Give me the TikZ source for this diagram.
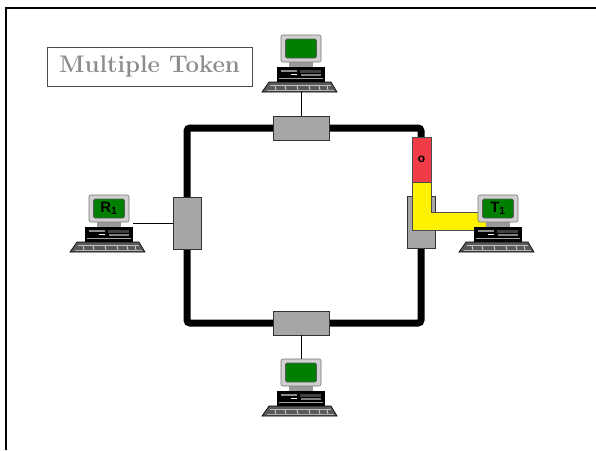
\documentclass[tikz,border=0pt]{standalone}
\usepackage{fontspec}
\usepackage{tikz}
\usetikzlibrary{backgrounds}
\newfontfamily\labelfont{Liberation Sans}

\definecolor{tapgray}{RGB}{166,166,166}
\definecolor{screengreen}{RGB}{0,128,0}
\definecolor{tokenred}{RGB}{240,60,70}
\definecolor{titlegray}{RGB}{140,140,140}

\tikzset{
  tap/.style={draw=black!80, fill=tapgray, line width=0.8pt, inner sep=0pt},
  ring/.style={line width=7pt, rounded corners=3pt},
  screen/.style={draw=black!65, line width=0.9pt, fill=screengreen, rounded corners=1.5pt, minimum width=31pt, minimum height=19pt, inner sep=0pt, font=\labelfont\bfseries\fontsize{15}{15}\selectfont},
  pics/computer/.style={
    code={
      % keyboard
      \draw[black, fill=black!65, line width=0.6pt] (-32,47) -- (30,47) -- (36,57) -- (-39,57) -- cycle;
      \draw[black!25, line width=0.7pt] (-31,50) -- (30,50);
      \foreach \kx in {-26,-16,-4,8,18,26} \draw[black!15, line width=0.8pt] (\kx,51) -- ++(1,4);
      \draw[black!30, line width=0.8pt] (-34,55) -- (33,55);
      % base unit
      \fill[black] (-24,32) rectangle (24,47);
      \fill[black!45] (-20,35) rectangle (-4,37);
      \fill[black!75] (-1,35) rectangle (20,38);
      \fill[white] (-10,38.5) rectangle (-4,40);
      \fill[black!50] (0,39) rectangle (20,41);
      \fill[black!35] (-22,43) rectangle (22,44);
      % stand
      \fill[black!40] (-12,27) rectangle (12,32);
      % monitor
      \draw[black!55, fill=black!18, rounded corners=2pt, line width=0.6pt] (-20,0) rectangle (20,27);
      \node[screen] (-screen) at (0,13.5) {#1};
      \coordinate (-top) at (0,0);
      \coordinate (-foot) at (0,57);
      \coordinate (-east) at (24,28);
    }
  },
  pics/computer/.default={}
}

\begin{document}
\begin{tikzpicture}[x=1pt, y=-1pt]
  \useasboundingbox (0,0) rectangle (596,450);

  % page frame
  \draw[line width=2pt] (6,450) -- (6,8) -- (596,8);

  \node[draw=black!70, line width=0.6pt, minimum width=205pt, minimum height=39pt, text=titlegray, font=\bfseries\fontsize{24}{28}\selectfont] (title) at (149.5,66.5) {Multiple Token};

  % ring taps
  \node[tap, minimum width=56pt, minimum height=24pt] (tapN) at (301,128) {};
  \node[tap, minimum width=56pt, minimum height=24pt] (tapS) at (301,323) {};
  \node[tap, minimum width=28pt, minimum height=52pt] (tapW) at (187,223) {};
  \node[tap, minimum width=28pt, minimum height=52pt] (tapE) at (421,222) {};

  \begin{scope}[on background layer]
    \draw[ring] (tapW |- tapN) rectangle (tapE |- tapS);
  \end{scope}

  % token on the ring
  \draw[black!70, fill=yellow, line width=0.6pt] (412,182) -- (431,182) -- (431,212) -- (490,212) -- (490,230) -- (412,230) -- cycle;
  \node[draw=black!70, fill=tokenred, line width=0.6pt, minimum width=19pt, minimum height=45pt, inner sep=0pt, font=\labelfont\bfseries\fontsize{12}{12}\selectfont] (token) at (421.5,159.5) {o};

  % stations
  \pic (pcN) at (301,35) {computer};
  \pic (pcS) at (301,359) {computer};
  \pic (pcR) at (109,195) {computer={R\textsubscript{1}}};
  \pic (pcT) at (498,195) {computer={T\textsubscript{1}}};

  \draw[line width=0.8pt] (pcN-foot) -- (tapN);
  \draw[line width=0.8pt] (tapS) -- (pcS-top);
  \draw[line width=0.8pt] (pcR-east) -- (pcR-east -| tapW.west);
\end{tikzpicture}
\end{document}
